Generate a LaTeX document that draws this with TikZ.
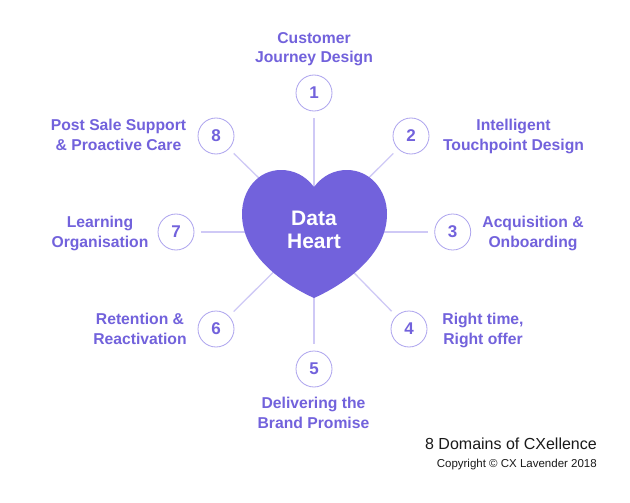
\documentclass[tikz,border=0pt]{standalone}
\usepackage{fontspec}
\setmainfont{Liberation Sans}
\definecolor{heartc}{HTML}{7262DC}
\definecolor{linec}{HTML}{CFC9F6}
\definecolor{ringc}{HTML}{ADA4EE}
\definecolor{inkc}{HTML}{1A1A1A}
\tikzset{
 ring/.style={circle,draw=ringc,line width=0.8pt,fill=white,minimum size=36pt,inner sep=0pt,text=heartc,font=\fontsize{17}{17}\selectfont\bfseries},
 spoke/.style={draw=linec,line width=1.3pt,shorten >=6.5pt},
 lab/.style={text=heartc,inner sep=0pt,align=center,anchor=base,font=\fontsize{15.7}{19.6}\selectfont\bfseries},
 hearttext/.style={text=white,inner sep=0pt,align=center,anchor=base,font=\fontsize{21}{23}\selectfont\bfseries},
 foot/.style={text=inkc,inner sep=0pt,anchor=base east}
}
\begin{document}
\begin{tikzpicture}[x=1pt,y=-1pt]
\useasboundingbox[fill=white] (0,0) rectangle (630,503);
\coordinate (hub) at (314,232);
\node[ring] (n1) at (314,93) {1};
\node[ring] (n2) at (411,136) {2};
\node[ring] (n3) at (452.7,232) {3};
\node[ring] (n4) at (409,329) {4};
\node[ring] (n5) at (314,369) {5};
\node[ring] (n6) at (216,329) {6};
\node[ring] (n7) at (176,232) {7};
\node[ring] (n8) at (216,136) {8};
\foreach \k in {1,...,8} \draw[spoke] (hub) -- (n\k);
\fill[heartc] (314,187)
 .. controls (323,175) and (335,170) .. (347,170)
 .. controls (370,170) and (387,190) .. (387,214)
 .. controls (387,255) and (345,284) .. (314,298)
 .. controls (283,284) and (242,255) .. (242,214)
 .. controls (242,190) and (258,170) .. (281,170)
 .. controls (293,170) and (305,175) .. (314,187) -- cycle;
\node[hearttext] (h) at (314,248) {Data\\Heart};
\node[lab] (l1) at (314,63) {Customer\\Journey Design};
\node[lab] (l2) at (513.5,150) {Intelligent\\Touchpoint Design};
\node[lab] (l3) at (533,247) {Acquisition \&\\Onboarding};
\node[lab] (l4) at (483,344) {Right time,\\Right offer};
\node[lab] (l5) at (313.5,428) {Delivering the\\Brand Promise};
\node[lab] (l6) at (140,344) {Retention \&\\Reactivation};
\node[lab] (l7) at (100,247) {Learning\\Organisation};
\node[lab] (l8) at (118.5,150) {Post Sale Support\\\& Proactive Care};
\node[foot,font=\fontsize{16}{16}\selectfont] (f1) at (597,449) {8 Domains of CXellence};
\node[foot,font=\fontsize{11.5}{11.5}\selectfont] (f2) at (597,467) {Copyright © CX Lavender 2018};
\end{tikzpicture}
\end{document}
